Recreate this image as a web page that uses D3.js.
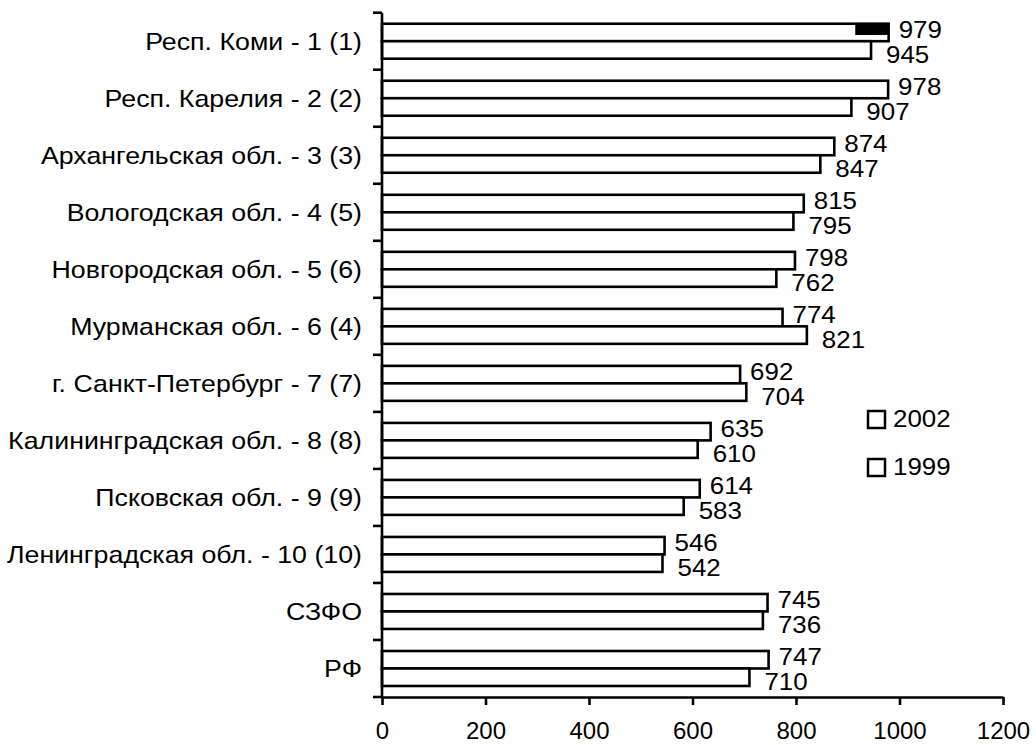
<!DOCTYPE html>
<html>
<head>
<meta charset="utf-8">
<script src="https://cdn.jsdelivr.net/npm/d3@7"></script>
<style>
  body { margin: 0; background: #fff; }
  svg text { font-family: Arial, "Liberation Sans", sans-serif; fill: #000; }
</style>
</head>
<body>
<div id="card"></div>
<script>
// categories (top to bottom)
const categories = [
  "Респ. Коми - 1 (1)",
  "Респ. Карелия - 2 (2)",
  "Архангельская обл. - 3 (3)",
  "Вологодская обл. - 4 (5)",
  "Новгородская обл. - 5 (6)",
  "Мурманская обл. - 6 (4)",
  "г. Санкт-Петербург - 7 (7)",
  "Калининградская обл. - 8 (8)",
  "Псковская обл. - 9 (9)",
  "Ленинградская обл. - 10 (10)",
  "СЗФО",
  "РФ"
];
const seriesNames = ["2002", "1999"];
const values2002 = [979, 978, 874, 815, 798, 774, 692, 635, 614, 546, 745, 747];
const values1999 = [945, 907, 847, 795, 762, 821, 704, 610, 583, 542, 736, 710];
const xTicks = [0, 200, 400, 600, 800, 1000, 1200];
// dark block drawn at the end of the Komi 2002 bar
const komiMarkFrom = 916;

const w = 1036, h = 745;

const svg = d3.select("#card").append("svg")
  .attr("width", w).attr("height", h);

const x = d3.scaleLinear().domain([0, 1200]).range([382, 1003]);
const y = d3.scaleBand().domain(categories).range([12.7, 697]);
const ySub = d3.scaleBand().domain(seriesNames)
  .range([0, y.bandwidth()]).paddingInner(0).paddingOuter(0.63);

const rows = categories.map((c, i) => ({
  cat: c,
  vals: [
    { s: "2002", v: values2002[i] },
    { s: "1999", v: values1999[i] }
  ]
}));

//bars
const groups = svg.selectAll(".row")
  .data(rows).enter()
  .append("g").classed("row", true)
  .attr("transform", d => "translate(0," + y(d.cat) + ")");

groups.selectAll("rect")
  .data(d => d.vals).enter()
  .append("rect")
  .attr("x", x(0))
  .attr("y", d => ySub(d.s))
  .attr("width", d => x(d.v) - x(0))
  .attr("height", ySub.bandwidth())
  .style("fill", "#fff")
  .style("stroke", "#000")
  .style("stroke-width", 2.6);

// black block on first bar
svg.append("rect")
  .attr("x", x(komiMarkFrom))
  .attr("y", y(categories[0]) + ySub("2002"))
  .attr("width", x(values2002[0]) - x(komiMarkFrom))
  .attr("height", ySub.bandwidth() * 0.6)
  .style("fill", "#000")
  .style("stroke", "#000")
  .style("stroke-width", 1.5);

// value labels
groups.selectAll("text.val")
  .data(d => d.vals).enter()
  .append("text").classed("val", true)
  .attr("transform", d => {
    const tx = x(d.v) + (d.s === "2002" ? 10 : 15);
    const ty = ySub(d.s) + ySub.bandwidth() + (d.s === "2002" ? -3 : 4);
    return "translate(" + tx + "," + ty + ") scale(1.08,1)";
  })
  .style("font-size", "24px")
  .text(d => d.v);

// y axis line + category boundary ticks
svg.append("line")
  .attr("x1", x(0)).attr("x2", x(0))
  .attr("y1", y.range()[0]).attr("y2", y.range()[1])
  .style("stroke", "#000").style("stroke-width", 2.6);

const bounds = categories.map(c => y(c)).concat([y.range()[1]]);
svg.selectAll(".ytick")
  .data(bounds).enter()
  .append("line").classed("ytick", true)
  .attr("x1", x(0) - 9).attr("x2", x(0))
  .attr("y1", d => d).attr("y2", d => d)
  .style("stroke", "#000").style("stroke-width", 2.6);

// category labels
svg.selectAll(".cat")
  .data(categories).enter()
  .append("text").classed("cat", true)
  .attr("text-anchor", "end")
  .attr("dy", "0.35em")
  .attr("transform", d => "translate(362," + (y(d) + y.bandwidth() / 2) + ") scale(1.115,1)")
  .style("font-size", "24px")
  .text(d => d);

// x axis
const xAxis = d3.axisBottom(x)
  .tickValues(xTicks)
  .tickFormat(d3.format("d"))
  .tickSize(8)
  .tickSizeOuter(0)
  .tickPadding(17);

const xg = svg.append("g")
  .attr("transform", "translate(0," + y.range()[1] + ")")
  .call(xAxis);
xg.select(".domain").style("stroke", "#000").style("stroke-width", 2.6);
xg.selectAll(".tick line").style("stroke", "#000").style("stroke-width", 2.6);
xg.selectAll(".tick text")
  .style("font-size", "24px")
  .style("font-family", "Arial, 'Liberation Sans', sans-serif")
  .attr("fill", "#000");

// legend
const legend = svg.selectAll(".legend")
  .data(seriesNames).enter()
  .append("g").classed("legend", true)
  .attr("transform", (d, i) => "translate(868," + (411 + i * 48) + ")");

legend.append("rect")
  .attr("width", 17).attr("height", 17)
  .style("fill", "#fff").style("stroke", "#000").style("stroke-width", 2.5);

legend.append("text")
  .attr("transform", "translate(25,16) scale(1.08,1)")
  .style("font-size", "24px")
  .text(d => d);
</script>
</body>
</html>
